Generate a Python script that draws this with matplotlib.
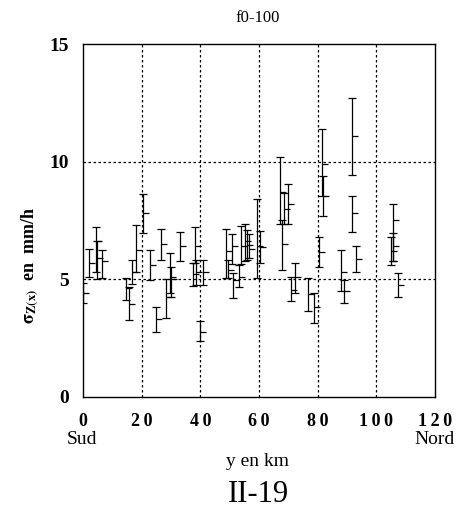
import matplotlib
matplotlib.use("Agg")
import matplotlib.pyplot as plt

# distance (km), mean, lower, upper  (sigma en mm/h)
km = [0.2, 2.2, 4.5, 5.0, 6.5, 14.8, 15.9, 16.7, 18.2, 20.5,
      23.0, 25.0, 26.8, 28.4, 29.6, 30.2, 33.0, 37.6, 38.2, 38.6,
      40.0, 40.9, 48.9, 49.6, 50.8, 51.3, 53.1, 53.9, 55.1, 56.0,
      56.6, 59.3, 60.3, 67.1, 67.9, 68.5, 70.0, 71.0, 72.2, 76.8,
      78.7, 80.4, 81.6, 81.9, 87.8, 88.9, 91.6, 91.6, 93.2, 105.1,
      105.5, 105.8, 107.2]
mean = [4.4, 5.7, 6.6, 5.9, 5.75, 4.6, 3.95, 5.3, 6.25, 7.8,
        5.6, 3.3, 6.5, 4.25, 5.1, 5.0, 6.4, 5.2, 6.4, 5.3,
        2.75, 5.3, 6.2, 5.4, 6.4, 4.95, 5.1, 6.4, 6.6, 6.45,
        6.3, 6.4, 6.35, 8.7, 6.5, 8.0, 8.2, 4.55, 5.1, 4.35,
        3.8, 6.15, 9.9, 8.55, 5.3, 4.5, 11.1, 7.8, 5.85, 6.2,
        7.5, 6.4, 4.75]
low = [3.97, 5.1, 5.3, 5.0, 5.05, 4.1, 3.25, 4.8, 5.3, 6.95,
       4.95, 2.75, 5.8, 3.35, 4.4, 4.25, 5.75, 4.7, 5.7, 4.75,
       2.35, 4.75, 5.05, 5.05, 5.65, 4.2, 4.65, 5.65, 5.75, 5.8,
       5.9, 5.05, 5.7, 7.35, 5.4, 7.35, 7.35, 4.05, 4.4, 3.65,
       3.15, 5.5, 8.55, 7.7, 4.5, 4.0, 9.45, 7.0, 5.3, 5.6,
       5.75, 5.75, 4.25]
high = [4.82, 6.3, 7.2, 6.6, 6.25, 5.05, 4.65, 5.8, 7.3, 8.6,
        6.25, 3.8, 7.15, 5.0, 6.1, 5.5, 7.0, 5.7, 7.2, 5.8,
        3.2, 5.8, 7.15, 5.8, 6.9, 5.25, 5.6, 7.25, 7.35, 7.1,
        6.9, 8.4, 7.05, 10.2, 7.5, 8.65, 9.05, 5.1, 5.7, 5.05,
        4.4, 6.8, 11.4, 9.4, 6.25, 4.95, 12.7, 8.55, 6.4, 6.8,
        8.2, 6.95, 5.25]

xticks = [0, 20, 40, 60, 80, 100, 120]
yticks = [0, 5, 10, 15]

plt.rcParams["font.family"] = ["Liberation Serif", "DejaVu Serif"]
plt.rcParams["mathtext.fontset"] = "stix"

fig = plt.figure(figsize=(4.6, 5.13), dpi=100)
ax = fig.add_axes([0.18, 0.227, 0.766, 0.687])

err = [[m - l for m, l in zip(mean, low)], [h - m for m, h in zip(mean, high)]]
ax.errorbar(km, mean, yerr=err, fmt="none", ecolor="black", elinewidth=0.9,
            capsize=2.8, capthick=0.9)
ax.plot(km, mean, linestyle="none", marker=1, markersize=4, color="black",
        markeredgewidth=0.9)

ax.set_xlim(0, 120)
ax.set_ylim(0, 15)
ax.set_xticks(xticks)
ax.set_yticks(yticks)
ax.set_xticklabels(["\u2009".join(str(t)) for t in xticks],
                   fontweight="bold", fontsize=13)
ax.set_yticklabels([str(t) for t in yticks], fontweight="bold", fontsize=14)
ax.tick_params(length=0, pad=10)
ax.tick_params(axis="x", pad=12)
for v in [20, 40, 60, 80, 100]:
    ax.axvline(v, color="black", linestyle=(0, (2, 2)), linewidth=0.9)
for v in [5, 10]:
    ax.axhline(v, color="black", linestyle=(0, (2, 2)), linewidth=0.9)
for s in ax.spines.values():
    s.set_linewidth(1.0)

fig.text(258 / 460, 1 - 18 / 513, "f0-100", ha="center", va="center", fontsize=12)
fig.text(30 / 460, 1 - 265 / 513, r"$\mathbf{\sigma_{Z(x)}}$  en  mm/h", rotation=90,
         ha="center", va="center", fontsize=13, fontweight="bold")
fig.text(82 / 460, 1 - 440 / 513, "Sud", ha="center", va="center", fontsize=14)
fig.text(435 / 460, 1 - 440 / 513, "Nord", ha="center", va="center", fontsize=14)
fig.text(258 / 460, 1 - 461 / 513, "y en km", ha="center", va="center", fontsize=14)
fig.text(258 / 460, 1 - 494 / 513, "II-19", ha="center", va="center", fontsize=22)

fig.savefig("out.png", dpi=100)
